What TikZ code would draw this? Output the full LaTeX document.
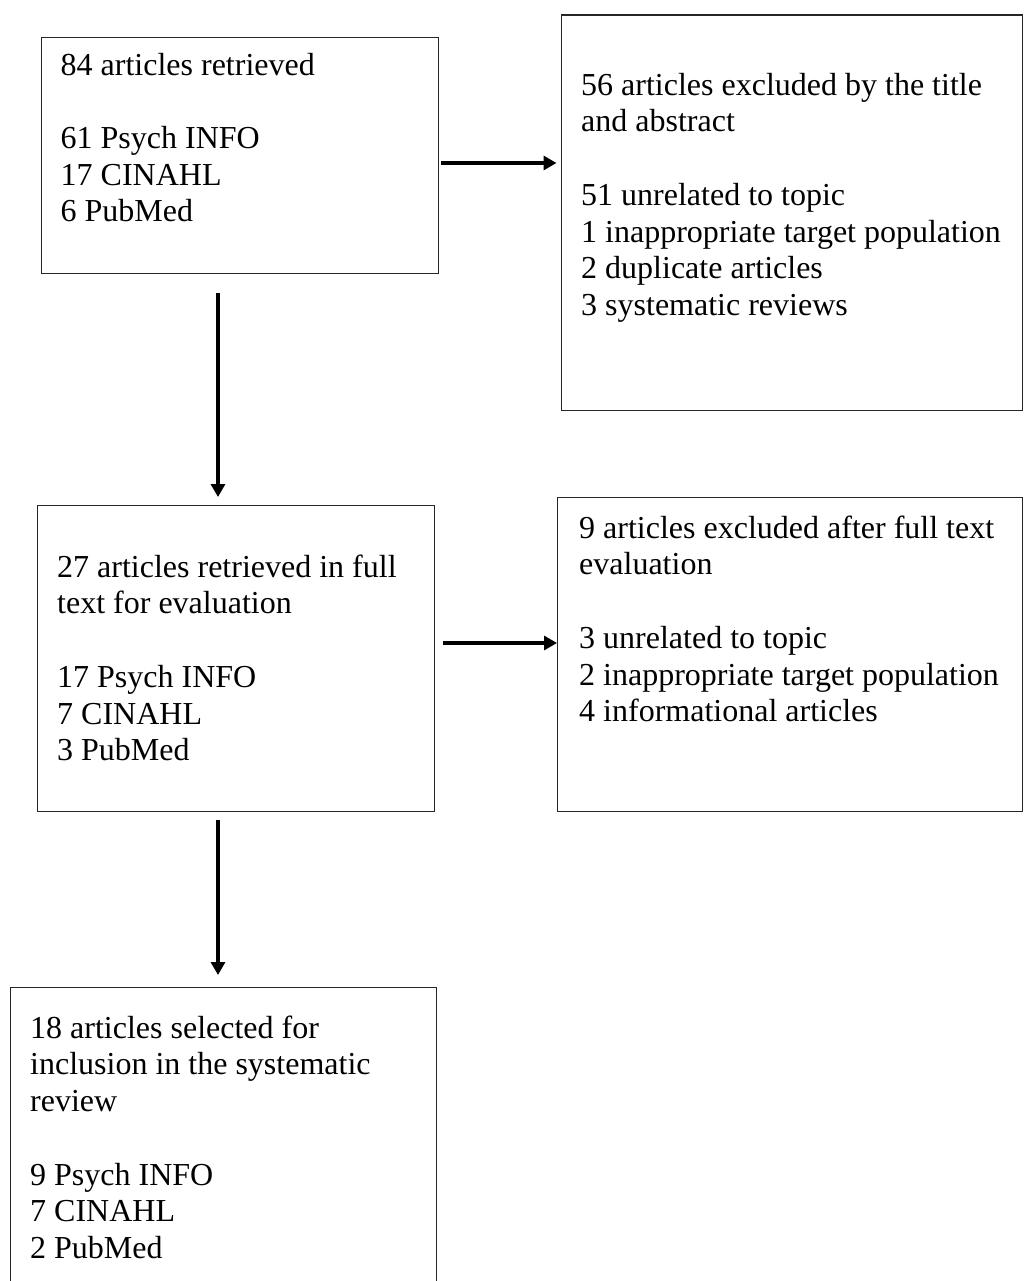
\documentclass[tikz,border=0pt]{standalone}
\usepackage{fontspec}
\setmainfont{Liberation Serif}
\usetikzlibrary{arrows.meta}
\begin{document}
\begin{tikzpicture}[x=1pt,y=-1pt,
  box/.style={draw=black!85,line width=1.3pt,inner sep=0pt,anchor=north west,rectangle},
  txt/.style={anchor=north west,inner sep=0pt,align=left,font=\fontsize{32}{36.7}\selectfont},
  arr/.style={line width=3.2pt,-{Triangle[length=13pt,width=14pt]}}]
\clip (0,0) rectangle (1023,1281);
\fill[white] (0,0) rectangle (1023,1281);
% boxes
\node[box,minimum width=397pt,minimum height=236pt] (b1) at (40.5,37) {};
\node[box,minimum width=461pt,minimum height=395pt] (b2) at (560.5,14.5) {};
\node[box,minimum width=397pt,minimum height=306pt] (b3) at (37,505) {};
\node[box,minimum width=464.5pt,minimum height=314pt] (b4) at (557,497) {};
\node[box,minimum width=426pt,minimum height=330pt] (b5) at (10,987) {};
% texts
\node[txt] (t1) at (60.5,75-24) {\rule{0pt}{24pt}84 articles retrieved\\[36.7pt]61 Psych INFO\\17 CINAHL\\6 PubMed};
\node[txt] (t2) at (581,95-24) {\rule{0pt}{24pt}56 articles excluded by the title\\and abstract\\[36.7pt]51 unrelated to topic\\1 inappropriate target population\\2 duplicate articles\\3 systematic reviews};
\node[txt] (t3) at (57,577-24) {\rule{0pt}{24pt}27 articles retrieved in full\\text for evaluation\\[36.7pt]17 Psych INFO\\7 CINAHL\\3 PubMed};
\node[txt] (t4) at (579,538-24) {\rule{0pt}{24pt}9 articles excluded after full text\\evaluation\\[36.7pt]3 unrelated to topic\\2 inappropriate target population\\4 informational articles};
\node[txt] (t5) at (30,1038-24) {\rule{0pt}{24pt}18 articles selected for\\inclusion in the systematic\\review\\[36.7pt]9 Psych INFO\\7 CINAHL\\2 PubMed};
% connectors
\coordinate (a1) at (441,163);
\draw[arr,shorten >=4pt] (a1) -- (a1 -| b2.west);
\coordinate (a2) at (218,293);
\draw[arr,shorten >=8pt] (a2) -- (a2 |- b3.north);
\coordinate (a3) at (443,643);
\draw[arr] (a3) -- (a3 -| b4.west);
\coordinate (a4) at (218,820);
\draw[arr,shorten >=12pt] (a4) -- (a4 |- b5.north);
\end{tikzpicture}
\end{document}
